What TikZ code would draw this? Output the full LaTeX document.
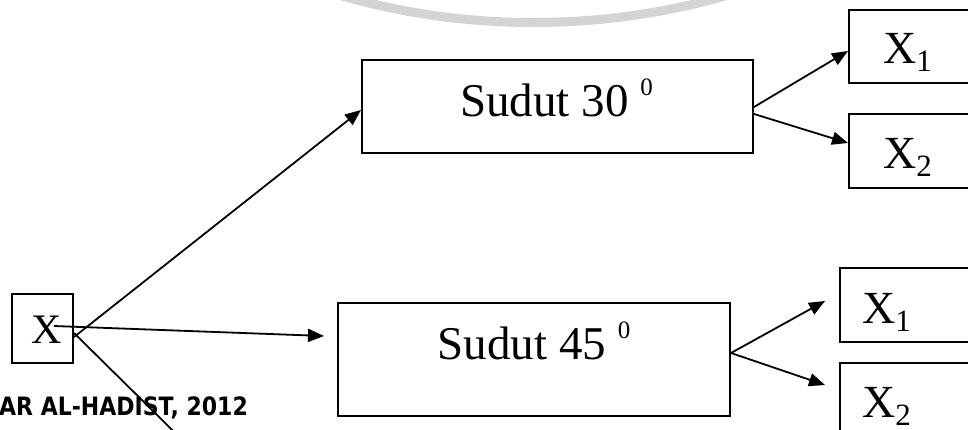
\documentclass[tikz,border=0pt]{standalone}
\usepackage{fontspec}
\setmainfont{Liberation Serif}
\newfontfamily\footfont{DejaVu Sans}
\usetikzlibrary{arrows.meta}
\definecolor{arcgray}{RGB}{214,212,210}
\begin{document}
\begin{tikzpicture}[x=1pt,y=-1pt,
  box/.style={draw, line width=2pt, inner sep=0pt},
  conn/.style={line width=1.8pt, -{Triangle[length=16pt,width=13pt]}},
  plainline/.style={line width=1.8pt},
  xlbl/.style={inner sep=0pt, anchor=base west, font=\fontsize{46}{46}\selectfont},
  sudut/.style={inner sep=0pt, anchor=base, font=\fontsize{47}{47}\selectfont}
]
\useasboundingbox (0,0) rectangle (968,429);
\fill[white] (0,0) rectangle (968,429);
% grey arc at top
\draw[arcgray, line width=9pt] (533.5,-677.5) circle[radius=700];
% boxes
\node[box, minimum width=61pt, minimum height=69pt] (xb) at (42.5,328.5) {};
\node[box, minimum width=391pt, minimum height=93pt] (s30) at (557.5,106.5) {};
\node[box, minimum width=392pt, minimum height=113pt] (s45) at (534,359.5) {};
\node[box, minimum width=141pt, minimum height=73pt] (x1u) at (919.5,46.5) {};
\node[box, minimum width=141pt, minimum height=74pt] (x2u) at (919.5,151) {};
\node[box, minimum width=150pt, minimum height=74pt] (x1l) at (915,305) {};
\node[box, minimum width=150pt, minimum height=74pt] (x2l) at (915,400) {};
% texts
\node[inner sep=0pt, anchor=base west, font=\fontsize{42}{42}\selectfont] (tx) at (31.5,343) {X};
\node[sudut] (t30) at (556.5,116) {Sudut 30 \raisebox{21pt}{\fontsize{25}{25}\selectfont 0}};
\node[sudut] (t45) at (534,359) {Sudut 45 \raisebox{21pt}{\fontsize{25}{25}\selectfont 0}};
\node[xlbl] (tx1u) at (883,63) {X\raisebox{-8pt}{\fontsize{31}{31}\selectfont 1}};
\node[xlbl] (tx2u) at (883,168) {X\raisebox{-8pt}{\fontsize{31}{31}\selectfont 2}};
\node[xlbl] (tx1l) at (862,323) {X\raisebox{-8pt}{\fontsize{31}{31}\selectfont 1}};
\node[xlbl] (tx2l) at (862,417) {X\raisebox{-8pt}{\fontsize{31}{31}\selectfont 2}};
\node[inner sep=0pt, anchor=base west, font=\footfont\bfseries\fontsize{22}{22}\selectfont] (foot) at (-1,415) {\scalebox{1}[1.15]{AR AL-HADIST, 2012}};
% connectors
\coordinate (dn) at (193,450.5);
\draw[conn] ([yshift=-8.5pt]xb.east) -- ([yshift=-3.5pt]s30.west);
\draw[conn] ([xshift=11.5pt,yshift=2.5pt]xb.center) -- ([xshift=-13pt,yshift=23.5pt]s45.west);
\draw[plainline] ([yshift=-4.5pt]xb.east) -- (dn);
\draw[conn] ([yshift=-0.5pt]s30.east) -- ([yshift=-4.5pt]x1u.west);
\draw[conn] ([yshift=-7.5pt]s30.east) -- ([yshift=8pt]x2u.west);
\draw[conn] ([yshift=6.5pt]s45.east) -- ([xshift=-14pt,yshift=4pt]x1l.west);
\draw[conn] ([yshift=6.5pt]s45.east) -- ([xshift=-14pt,yshift=15pt]x2l.west);
\end{tikzpicture}
\end{document}
